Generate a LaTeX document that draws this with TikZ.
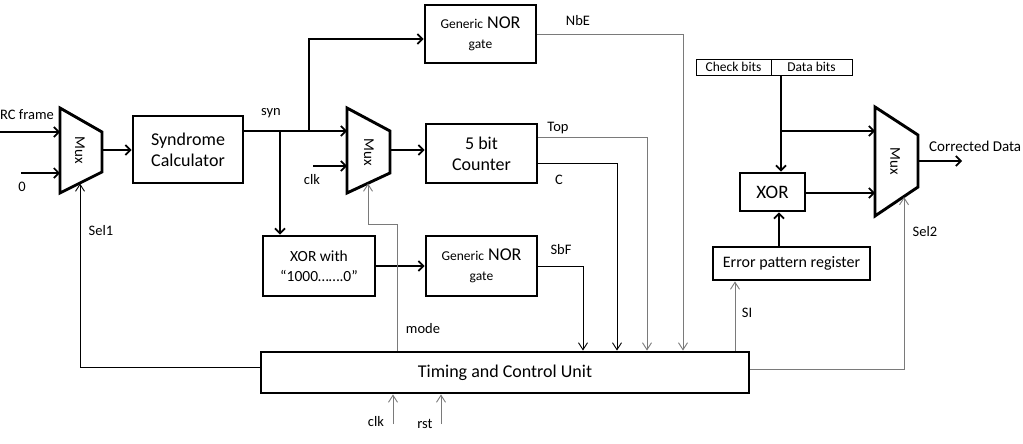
\documentclass[tikz,border=0pt]{standalone}
\usepackage{fontspec}
\setmainfont{Carlito}
\usetikzlibrary{arrows.meta}
\definecolor{ctlgray}{HTML}{7A7A7A}
\begin{document}
\begin{tikzpicture}[x=1pt,y=-1pt,
  blk/.style={draw,line width=2.9pt,inner sep=0pt,align=center,font=\fontsize{18}{21}\selectfont},
  cell/.style={draw,line width=0.7pt,inner sep=0pt,font=\fontsize{13.5}{14}\selectfont},
  muxshape/.style={draw,line width=2.9pt,line join=miter},
  muxlbl/.style={rotate=-90,font=\fontsize{15}{16}\selectfont,inner sep=0pt},
  dat/.style={line width=2pt,-{Straight Barb[length=5pt,width=10pt,line width=1.7pt]}},
  ctl/.style={line width=0.9pt,draw=ctlgray,-{Straight Barb[length=7pt,width=9pt,line width=0.9pt]}},
  ctlk/.style={line width=0.9pt,draw=black,-{Straight Barb[length=7pt,width=9pt,line width=0.9pt]}},
  lbl/.style={inner sep=0pt,font=\fontsize{14.5}{16}\selectfont}
]
\useasboundingbox (0,0) rectangle (1023,444);

% ---------- blocks ----------
\node[blk,minimum width=110pt,minimum height=67pt] (syn) at (188,149.5) {Syndrome\\Calculator};
\node[blk,minimum width=111pt,minimum height=58pt] (nor1) at (480.5,34)
  {{\fontsize{13.5}{15}\selectfont Generic} NOR\\[-1pt]{\fontsize{13.5}{15}\selectfont gate}};
\node[blk,minimum width=111pt,minimum height=59pt] (cnt) at (481.5,153.5) {5 bit\\Counter};
\node[blk,minimum width=112pt,minimum height=60pt,font=\fontsize{15.5}{20}\selectfont] (xorw) at (319,266) {XOR with\\“1000…….0”};
\node[blk,minimum width=111pt,minimum height=60pt] (nor2) at (481.5,266)
  {{\fontsize{13.5}{15}\selectfont Generic} NOR\\[-1pt]{\fontsize{13.5}{15}\selectfont gate}};
\node[blk,minimum width=488pt,minimum height=41pt] (tcu) at (505,372.5) {Timing and Control Unit};
\node[blk,minimum width=65pt,minimum height=38pt,font=\fontsize{19}{20}\selectfont] (xor) at (772.5,192) {XOR};
\node[blk,minimum width=157pt,minimum height=33pt,font=\fontsize{16}{18}\selectfont] (epr) at (791.5,263.5) {Error pattern register};
\node[cell,minimum width=75pt,minimum height=16pt] (chk) at (733.5,67) {Check bits};
\node[cell,minimum width=81pt,minimum height=16pt] (dat) at (811.5,67) {Data bits};

% ---------- multiplexers ----------
\draw[muxshape] (60,108) -- (102,132) -- (102,172) -- (60,193) -- cycle;
\node[muxlbl] (mux1) at (80,150) {Mux};
\draw[muxshape] (347,108) -- (390,131) -- (390,173) -- (347,193) -- cycle;
\node[muxlbl] (mux2) at (369,152) {Mux};
\draw[muxshape] (875,107) -- (918,135) -- (918,187) -- (875,216) -- cycle;
\node[muxlbl] (mux3) at (895,161) {Mux};

% mux ports
\coordinate (m1a) at (60,132);
\coordinate (m1b) at (60,173);
\coordinate (m1o) at (102,150);
\coordinate (m1s) at (80,183.5);
\coordinate (m2a) at (347,131);
\coordinate (m2b) at (347,166);
\coordinate (m2o) at (390,150);
\coordinate (m2s) at (368,183.5);
\coordinate (m3a) at (875,131);
\coordinate (m3b) at (875,193);
\coordinate (m3o) at (918,161);
\coordinate (m3s) at (904,197);

% free ends
\coordinate (crcin) at (0,132);
\coordinate (zin) at (21,173);
\coordinate (clkin) at (313,166);
\coordinate (outp) at (962,161);
\coordinate (clkb) at (393,424);
\coordinate (rstb) at (441,424);

% ---------- data connectors ----------
\draw[dat] (crcin) -- (m1a);
\draw[dat] (zin) -- (m1b);
\draw[dat] (m1o) -- (syn.west |- m1o);
\draw[dat] (syn.east |- m2a) -- (m2a);
\draw[dat] (309,131) -- (309,39) -- (nor1.west |- 0,39);
\draw[dat] (280,131) -- (xorw.north -| 280,0);
\draw[dat] (clkin) -- (m2b);
\draw[dat] (m2o) -- (cnt.west |- m2o);
\draw[dat] (xorw.east) -- (nor2.west);
\draw[dat] (dat.south -| 781,0) -- (xor.north -| 781,0);
\draw[dat] (781,131) -- (m3a);
\draw[dat] (xor.east |- m3b) -- (m3b);
\draw[dat] (epr.north -| 779,0) -- (xor.south -| 779,0);
\draw[dat] (m3o) -- (outp);

% ---------- control connectors ----------
\draw[ctl] (nor1.east) -- (683,34) -- (tcu.north -| 683,0);
\draw[ctl] (cnt.east |- 0,137) -- (647,137) -- (tcu.north -| 647,0);
\draw[ctlk] (cnt.east |- 0,163) -- (617,163) -- (tcu.north -| 617,0);
\draw[ctlk] (nor2.east) -- (583,266) -- (tcu.north -| 583,0);
\draw[ctl] (tcu.north -| 397,0) -- (397,224) -- (368,224) -- (m2s);
\draw[ctlk] (tcu.west |- 0,367) -- (80,367) -- (m1s);
\draw[ctl] (tcu.east |- 0,369) -- (904,369) -- (m3s);
\draw[ctl] (tcu.north -| 735,0) -- (epr.south -| 735,0);
\draw[ctl] (clkb) -- (tcu.south -| clkb);
\draw[ctl] (rstb) -- (tcu.south -| rstb);

% ---------- labels ----------
\node[lbl,anchor=west] (lcrc) at (0,115) {RC frame};
\node[lbl] (lzero) at (22,187) {0};
\node[lbl] (lsel1) at (101,231) {Sel1};
\node[lbl] (lsyn) at (271,113) {syn};
\node[lbl] (lclk) at (312,180) {clk};
\node[lbl] (lnbe) at (578,21) {NbE};
\node[lbl] (ltop) at (558,128) {Top};
\node[lbl] (lc) at (559,180) {C};
\node[lbl] (lsbf) at (561,250) {SbF};
\node[lbl] (lsi) at (747,313) {SI};
\node[lbl] (lmode) at (423,329) {mode};
\node[lbl] (lsel2) at (925,232) {Sel2};
\node[lbl] (lclkb) at (376,422) {clk};
\node[lbl] (lrst) at (425,424) {rst};
\node[lbl,anchor=west,font=\fontsize{15}{17}\selectfont] (lout) at (929,146) {Corrected Data};
\end{tikzpicture}
\end{document}
